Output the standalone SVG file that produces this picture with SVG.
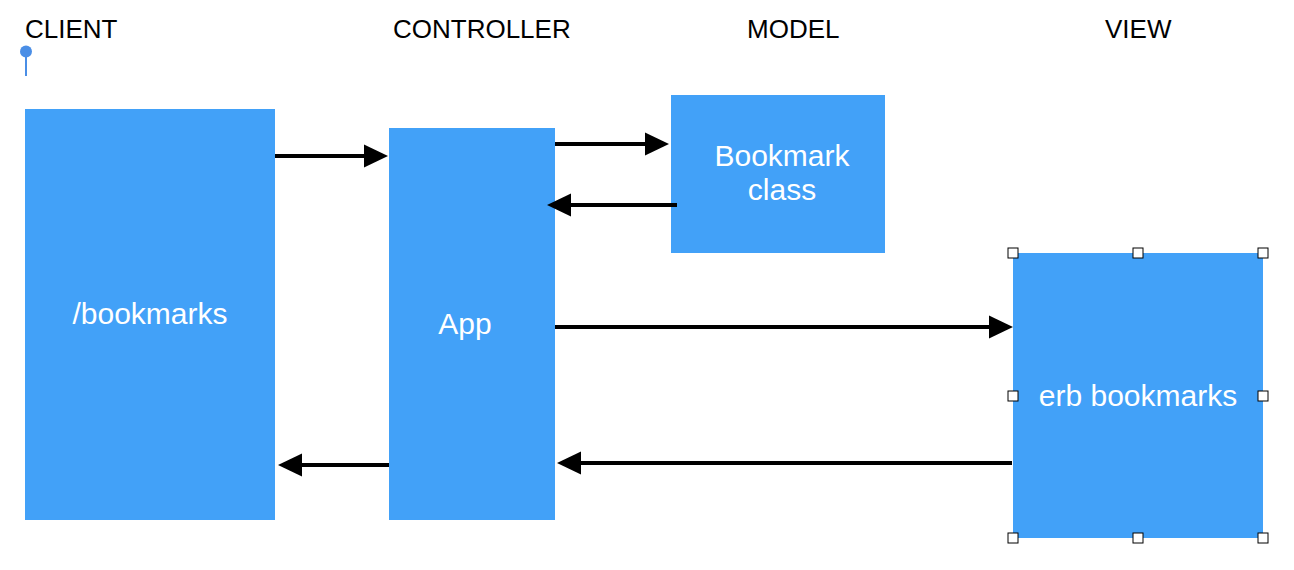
<svg xmlns="http://www.w3.org/2000/svg" width="1294" height="570" viewBox="0 0 1294 570">
<style>
.hdr{font-family:"Liberation Sans",Arial,sans-serif;font-size:26px;fill:#000}
.box{fill:#42a1f8}
.lbl{font-family:"Liberation Sans",Arial,sans-serif;font-size:30px;fill:#fff;text-anchor:middle}
.con{stroke:#000;stroke-width:4;fill:none}
.hd{fill:#000}
.handle{fill:#fff;stroke:#000;stroke-width:1}
</style>
<rect width="1294" height="570" fill="#fff"/>
<g id="headers">
<text class="hdr" x="25" y="38">CLIENT</text>
<text class="hdr" x="393" y="38">CONTROLLER</text>
<text class="hdr" x="747" y="38">MODEL</text>
<text class="hdr" x="1105" y="38">VIEW</text>
</g>
<g id="pin">
<line x1="26" y1="52" x2="26" y2="76" stroke="#4a8ee6" stroke-width="2"/>
<circle cx="26" cy="51.5" r="6" fill="#4a8ee6"/>
</g>
<g id="client">
<rect class="box" x="25" y="109" width="250" height="411"/>
<text class="lbl" x="150" y="324">/bookmarks</text>
</g>
<g id="app">
<rect class="box" x="389" y="128" width="166" height="392"/>
<text class="lbl" x="465" y="334">App</text>
</g>
<g id="model">
<rect class="box" x="671" y="95" width="214" height="158"/>
<text class="lbl" x="782" y="166">Bookmark</text>
<text class="lbl" x="782" y="200">class</text>
</g>
<g id="view">
<rect class="box" x="1013" y="253" width="250" height="285"/>
<text class="lbl" x="1138" y="406">erb bookmarks</text>
<rect class="handle" x="1008" y="248" width="10" height="10"/>
<rect class="handle" x="1133" y="248" width="10" height="10"/>
<rect class="handle" x="1258" y="248" width="10" height="10"/>
<rect class="handle" x="1008" y="391" width="10" height="10"/>
<rect class="handle" x="1258" y="391" width="10" height="10"/>
<rect class="handle" x="1008" y="533" width="10" height="10"/>
<rect class="handle" x="1133" y="533" width="10" height="10"/>
<rect class="handle" x="1258" y="533" width="10" height="10"/>
</g>
<g id="connectors">
<line class="con" x1="275" y1="156" x2="366" y2="156"/>
<polygon class="hd" points="388,156 364,144.5 364,167.5"/>
<line class="con" x1="555" y1="144" x2="647" y2="144"/>
<polygon class="hd" points="669,144 645,132.5 645,155.5"/>
<line class="con" x1="677" y1="205" x2="570" y2="205"/>
<polygon class="hd" points="547,205 571,193.5 571,216.5"/>
<line class="con" x1="555" y1="327" x2="991" y2="327"/>
<polygon class="hd" points="1013,327 989,315.5 989,338.5"/>
<line class="con" x1="1012" y1="463" x2="580" y2="463"/>
<polygon class="hd" points="557,463 581,451.5 581,474.5"/>
<line class="con" x1="389" y1="465" x2="300" y2="465"/>
<polygon class="hd" points="278,465 302,453.5 302,476.5"/>
</g>
</svg>
